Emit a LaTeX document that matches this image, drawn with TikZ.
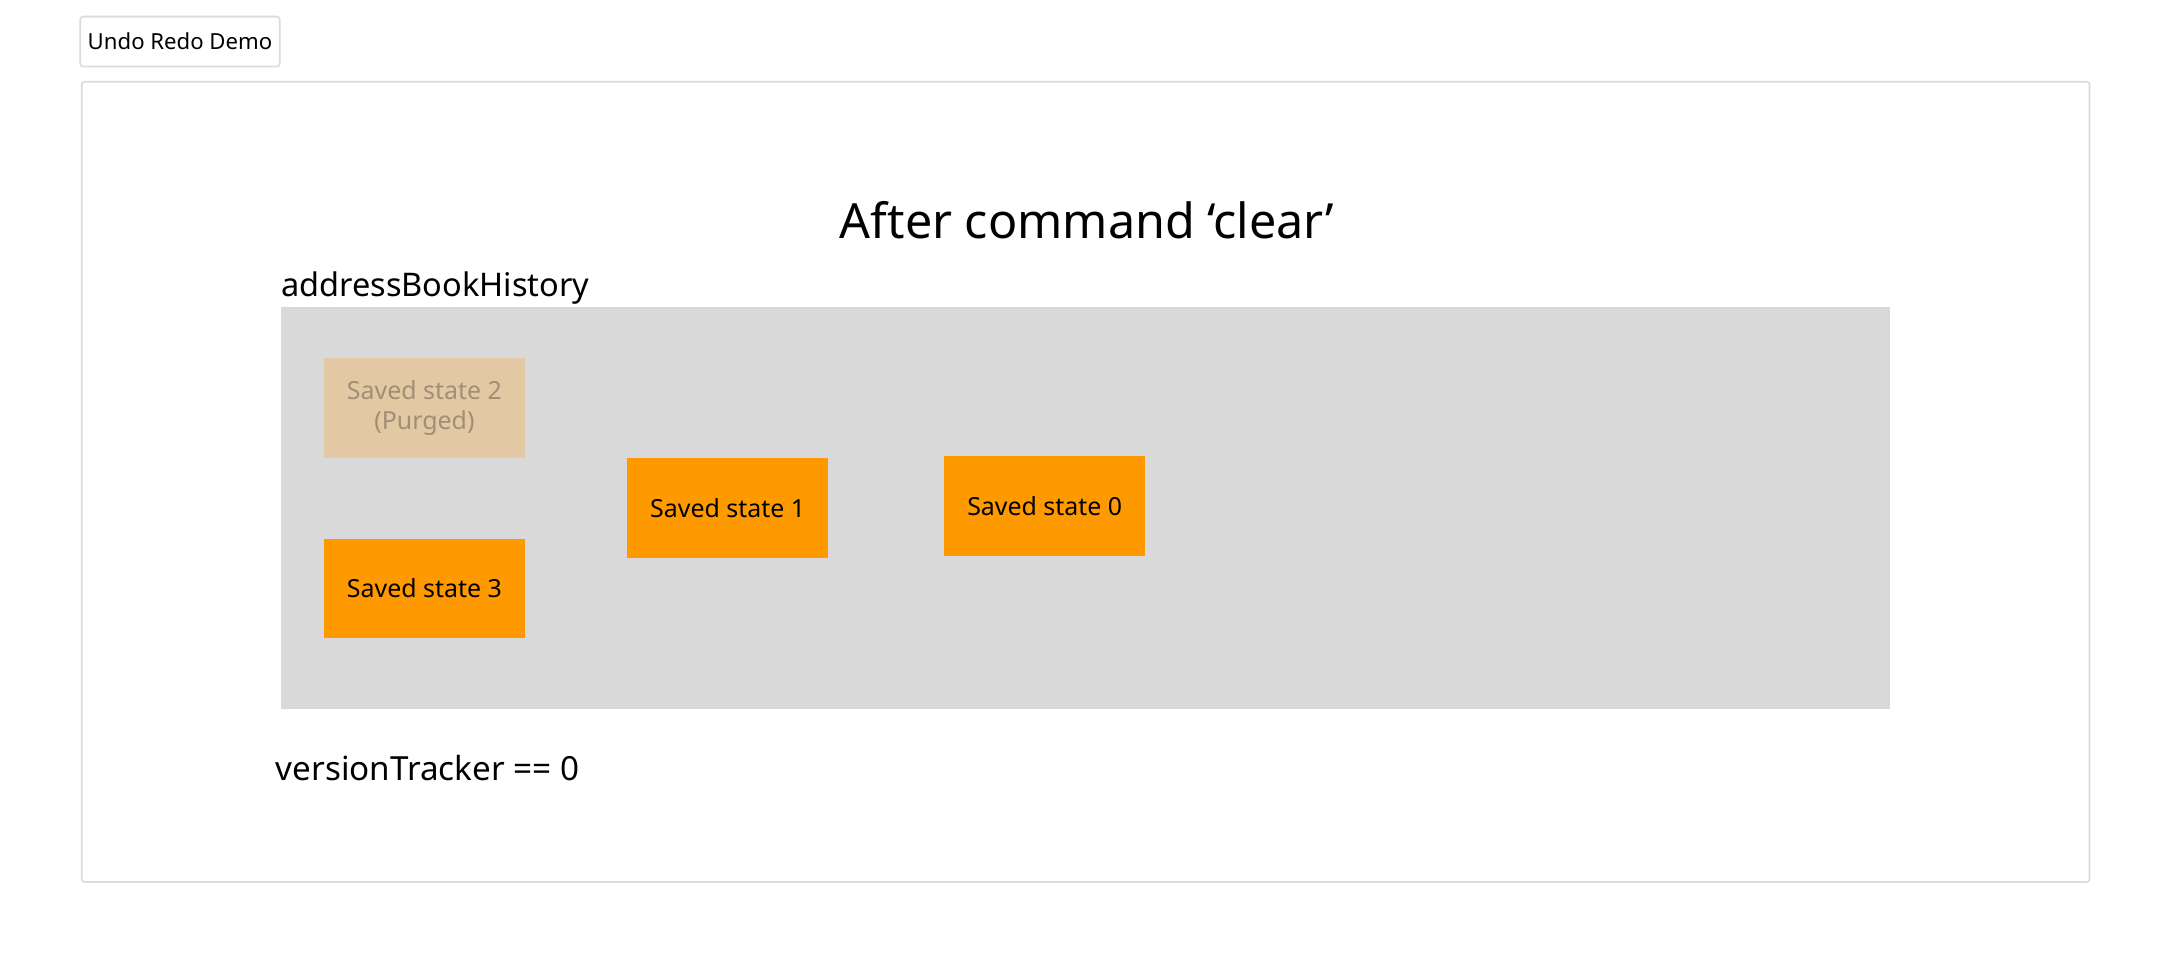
\documentclass[tikz,border=0pt]{standalone}
\usepackage{fontspec}
\setmainfont{Noto Sans}
\usetikzlibrary{positioning}
\definecolor{histgray}{HTML}{D9D9D9}
\definecolor{stateorange}{HTML}{FF9900}
\definecolor{purgedfill}{HTML}{E3C8A4}
\definecolor{purgedtext}{HTML}{A08F76}
\definecolor{framegray}{HTML}{DCDCDC}

\begin{document}
\begin{tikzpicture}[x=1pt,y=-1pt]
\tikzstyle{state}=[rectangle, minimum width=145pt, minimum height=72pt, inner sep=0pt, fill=stateorange, font=\fontsize{18}{22}\selectfont, align=center]
\tikzstyle{purged}=[state, fill=purgedfill, text=purgedtext]
\tikzstyle{btn}=[rectangle, rounded corners=2pt, draw=framegray, line width=1.3pt, minimum width=144pt, minimum height=36pt, font=\fontsize{16}{19}\selectfont]
\tikzstyle{label}=[inner sep=0pt, font=\fontsize{24}{29}\selectfont]
\useasboundingbox (0,0) rectangle (1560,693.3);
\fill[white] (0,0) rectangle (1560,693.3);
\node[btn] (demo) at (130,30) {Undo Redo Demo};
\node[rectangle, rounded corners=2pt, draw=framegray, line width=1.3pt, minimum width=1450pt, minimum height=578pt] (frame) at (784,348) {};
\node[font=\fontsize{35}{42}\selectfont] (title) at (785,159) {After command ‘clear’};
\node[rectangle, fill=histgray, minimum width=1162pt, minimum height=290pt] (hist) at (784,367) {};
\node[label, anchor=south west, font=\fontsize{23.5}{28}\selectfont] (histlabel) [above right=2pt and 0pt of hist.north west] {addressBookHistory};
\node[purged] (s2) at (306.5,294.5) {Saved state 2\\(Purged)};
\node[state] (s3) at (306.5,425) {Saved state 3};
\node[state] (s1) at (525.5,367) {Saved state 1};
\node[state] (s0) at (754.5,365.5) {Saved state 0};
\node[label, anchor=west] (tracker) at (199,555) {versionTracker == 0};
\end{tikzpicture}
\end{document}
